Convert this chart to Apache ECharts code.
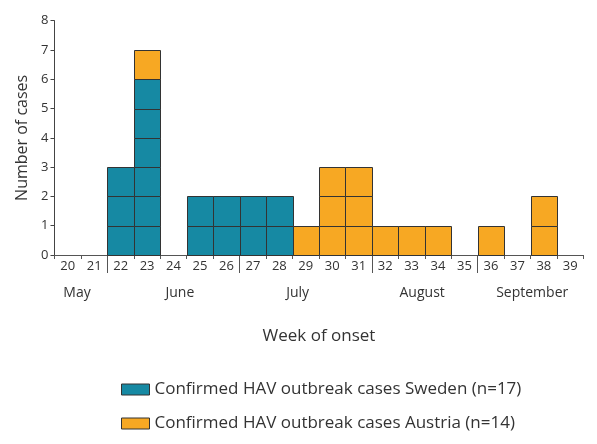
<!DOCTYPE html>
<html><head><meta charset="utf-8">
<script src="https://cdn.jsdelivr.net/npm/echarts@6/dist/echarts.min.js"></script>
<style>html,body{margin:0;padding:0;background:#fff}#c{width:597px;height:444px}</style>
</head><body><div id="c"></div>
<script>
const weeks = ['20','21','22','23','24','25','26','27','28','29','30','31','32','33','34','35','36','37','38','39'];
const sweden = [0,0,3,6,0,2,2,2,2,0,0,0,0,0,0,0,0,0,0,0];
const austria = [0,0,0,1,0,0,0,0,0,1,3,3,1,1,1,0,1,0,2,0];
const months = ['May','June','July','August','September'];
const monthPos = [20.35,24.24,28.69,33.4,37.56];
const monthBounds = [21.5,26.5,31.5,35.5];
const nameSE = 'Confirmed HAV outbreak cases Sweden (n=17)';
const nameAT = 'Confirmed HAV outbreak cases Austria (n=14)';
const colSE = '#1689a3', colAT = '#f7a823';
const FONT = 'Open Sans';

// one data item per case: [week index, stack position]
function boxes(counts, bases){
  const out = [];
  counts.forEach((c, i) => { for (let k = 0; k < c; k++) out.push([i, (bases ? bases[i] : 0) + k]); });
  return out;
}
function renderBox(color){
  return function(params, api){
    const p = api.coord([api.value(0), api.value(1)]);
    const s = api.size([1, 1]);
    const x0 = Math.round(p[0] - s[0] / 2) + 0.5, x1 = Math.round(p[0] + s[0] / 2) + 0.5;
    const yb = Math.round(p[1]) + 0.5, yt = Math.round(p[1] - s[1]) + 0.5;
    return {type:'rect', shape:{x:x0, y:yt, width:x1 - x0, height:yb - yt},
      style:{fill:color, stroke:'#333', lineWidth:1}};
  };
}
const series = [
  {type:'custom', name:nameSE, data:boxes(sweden), renderItem:renderBox(colSE),
   itemStyle:{color:colSE, borderColor:'#333', borderWidth:1}, encode:{x:0, y:1}, z:3},
  {type:'custom', name:nameAT, data:boxes(austria, sweden), renderItem:renderBox(colAT),
   itemStyle:{color:colAT, borderColor:'#333', borderWidth:1}, encode:{x:0, y:1}, z:3}
];

const chart = echarts.init(document.getElementById('c'), null, {renderer:'canvas'});
chart.setOption({
  animation:false,
  textStyle:{fontFamily:FONT},
  grid:{left:54.5, right:13.5, top:20.7, bottom:189},
  legend:{
    orient:'vertical', left:116, top:376, itemWidth:28, itemHeight:11, itemGap:17,
    icon:'rect',
    data:[nameSE, nameAT],
    itemStyle:{borderColor:'#333', borderWidth:1},
    textStyle:{fontFamily:FONT, fontSize:17, color:'#333'}
  },
  xAxis:[{
    type:'category', data:weeks, position:'bottom',
    axisLine:{lineStyle:{color:'#555', width:1}},
    axisTick:{show:true, length:4, lineStyle:{color:'#555'}},
    axisLabel:{fontFamily:FONT, fontSize:13, color:'#333', margin:5, interval:0},
    name:'Week of onset', nameLocation:'middle', nameGap:73,
    nameTextStyle:{fontFamily:FONT, fontSize:17, color:'#333'}
  },{
    type:'value', min:19.5, max:39.5, position:'bottom',
    axisLine:{show:false}, splitLine:{show:false},
    axisTick:{show:true, length:18, customValues:monthBounds, lineStyle:{color:'#555'}},
    axisLabel:{show:true, customValues:monthPos, margin:31, fontFamily:FONT, fontSize:14, color:'#333',
      formatter: v => { const i = monthPos.indexOf(v); return i >= 0 ? months[i] : ''; }}
  }],
  yAxis:{
    type:'value', min:0, max:8, interval:1,
    axisLine:{show:true, lineStyle:{color:'#444'}},
    axisTick:{show:true, length:4, lineStyle:{color:'#444'}},
    splitLine:{show:false},
    axisLabel:{fontFamily:FONT, fontSize:13, color:'#333', margin:6},
    name:'Number of cases', nameLocation:'middle', nameGap:14, nameRotate:90,
    nameTextStyle:{fontFamily:FONT, fontSize:16, color:'#333'}
  },
  series: series
});
</script></body></html>
